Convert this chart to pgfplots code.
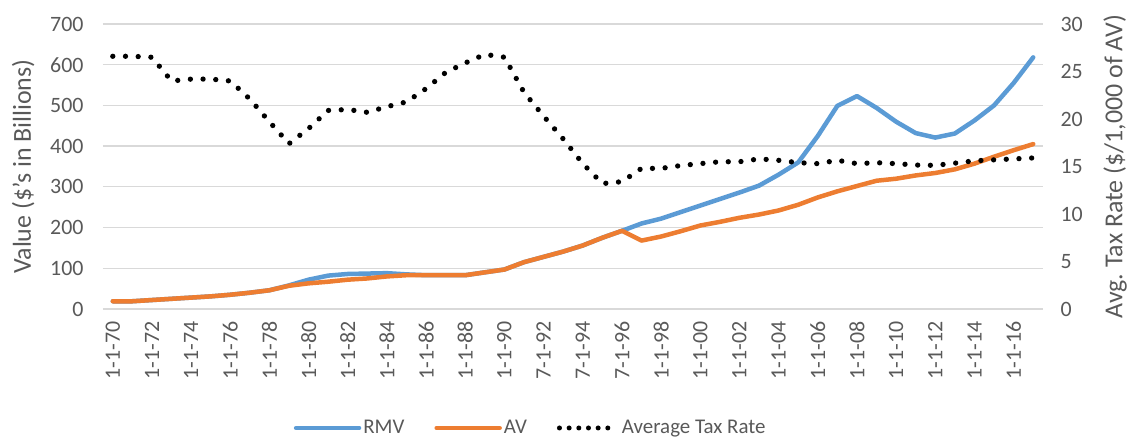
\documentclass[border=0pt]{standalone}
\usepackage{pgfplots}
\pgfplotsset{compat=1.18}
\usepackage{pgfplotstable}
\usepackage{fontspec}
\setmainfont{Carlito}
\definecolor{rmv}{HTML}{5B9BD5}
\definecolor{av}{HTML}{ED7D31}
\definecolor{txt}{HTML}{595959}
\definecolor{grd}{HTML}{D9D9D9}

\pgfplotstableread{
i rmv av tax
0 19 19 26.6
1 19 19 26.6
2 22 22 26.5
3 25 25 24.0
4 28 28 24.2
5 31 31 24.2
6 35 35 24.0
7 40 40 22.1
8 46 46 19.7
9 58 57 17.4
10 72 63 19.0
11 82 67 20.9
12 86 72 21.0
13 87 75 20.7
14 88 80 21.3
15 85 83 21.8
16 83 83 23.2
17 83 83 24.9
18 83 83 25.9
19 90 90 26.8
20 97 97 26.5
21 115 115 22.8
22 128 128 20.3
23 141 141 17.9
24 156 156 15.3
25 175 175 13.2
26 192 192 13.4
27 210 168 14.8
28 222 178 14.8
29 238 191 15.1
30 254 205 15.3
31 270 214 15.5
32 286 224 15.5
33 303 232 15.8
34 330 242 15.65
35 360 256 15.4
36 425 274 15.3
37 499 289 15.65
38 523 302 15.3
39 494 315 15.4
40 460 320 15.3
41 432 328 15.15
42 421 334 15.12
43 431 343 15.35
44 463 357 15.6
45 500 374 15.7
46 555 390 15.8
47 618 405 15.9
}\data

\begin{document}
\begin{tikzpicture}
\pgfplotsset{
 common/.style={
  width=940bp, height=285bp, scale only axis,
  xmin=-0.5, xmax=47.5,
  axis line style={draw=none},
  major tick length=0pt,
  tick label style={font=\fontsize{22}{24}\selectfont, text=txt},
  label style={font=\fontsize{26}{28}\selectfont, text=txt},
  /pgf/number format/assume math mode=true,
 },
 taxline/.style={black, line width=5.3bp, line cap=round, dash pattern=on 0bp off 12.7bp},
}
\begin{axis}[common, name=main,
  ymin=0, ymax=700, ytick={0,100,...,700},
  ymajorgrids, grid style={grd, line width=1.3bp},
  xtick={0,2,...,46},
  xticklabels={1-1-70,1-1-72,1-1-74,1-1-76,1-1-78,1-1-80,1-1-82,1-1-84,1-1-86,1-1-88,1-1-90,7-1-92,7-1-94,7-1-96,1-1-98,1-1-00,1-1-02,1-1-04,1-1-06,1-1-08,1-1-10,1-1-12,1-1-14,1-1-16},
  x tick label style={yshift=-9bp, rotate=90, anchor=east},
  y tick label style={xshift=-16bp},
  ylabel={Value (\$'s in Billions)},
  ylabel style={at={(axis description cs:-0.085,0.5)}, anchor=center},
  legend image code/.code={\draw[#1] (0bp,0bp) -- (63bp,0bp);},
  legend style={at={(0.455,-0.4175)}, anchor=center, draw=none, fill=none,
    legend columns=3, font=\fontsize{21}{23}\selectfont, text=txt,
    /tikz/every even column/.append style={column sep=28bp}},
  legend cell align=left,
]
\addplot[rmv, line width=4.5bp, line join=round, line cap=round] table[x=i, y=rmv] {\data};
\addlegendentry{RMV}
\addplot[av, line width=4.5bp, line join=round, line cap=round] table[x=i, y=av] {\data};
\addlegendentry{AV}
\addlegendimage{legend image code/.code={\draw[black, line width=5bp, line cap=round, dash pattern=on 0bp off 9.67bp] (0bp,0bp) -- (58bp,0bp);}}
\addlegendentry{Average Tax Rate}
\end{axis}
\begin{axis}[common, name=sec,
  ymin=0, ymax=30, ytick={0,5,...,30},
  xtick=\empty,
  yticklabel pos=right,
  y tick label style={xshift=14bp},
  ylabel={Avg.\ Tax Rate (\$/1,000 of AV)},
  ylabel style={at={(axis description cs:1.0766,0.5)}, anchor=center},
]
\addplot[taxline] table[x=i, y=tax] {\data};
\end{axis}
\pgfresetboundingbox
\path[use as bounding box] ([shift={(-103bp,-138bp)}]main.south west) rectangle ([shift={(92bp,24bp)}]main.north east);
\end{tikzpicture}
\end{document}
